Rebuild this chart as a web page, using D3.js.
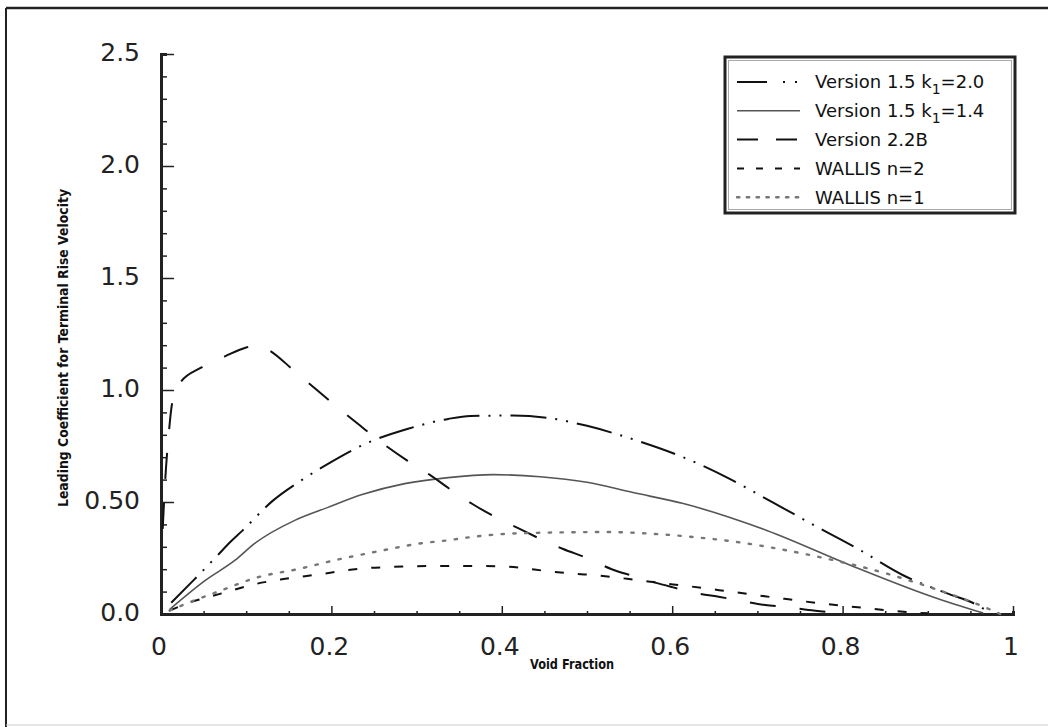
<!DOCTYPE html>
<html>
<head>
<meta charset="utf-8">
<script src="https://cdn.jsdelivr.net/npm/d3@7"></script>
<style>
    body { margin: 0; background: #fff; }
    #chart { width: 1048px; height: 727px; }
    .tick-label { font-family: "DejaVu Sans", sans-serif; font-weight: normal; font-size: 25px; fill: #222; }
    .axis-title { font-family: "DejaVu Sans", sans-serif; font-weight: bold; font-size: 14px; fill: #111; }
    .legend-text { font-family: "DejaVu Sans", sans-serif; font-size: 18px; fill: #111; }
</style>
</head>
<body>
<div id="chart"></div>
<script>
//Datos
const X_TICKS = [0, 0.2, 0.4, 0.6, 0.8, 1],
X_TICK_LABELS = ['0', '0.2', '0.4', '0.6', '0.8', '1'],
Y_TICKS = [0, 0.5, 1, 1.5, 2, 2.5],
Y_TICK_LABELS = ['0.0', '0.50', '1.0', '1.5', '2.0', '2.5'];

const SERIES_NAMES = ['Version 1.5 k1=2.0', 'Version 1.5 k1=1.4', 'Version 2.2B', 'WALLIS n=2', 'WALLIS n=1'];

const v15k20 = [[0.012,0.05],[0.038,0.15],[0.066,0.26],[0.081,0.32],[0.095,0.37],[0.131,0.505],[0.166,0.60],[0.198,0.675],[0.24,0.76],[0.29,0.827],[0.337,0.871],[0.363,0.884],[0.413,0.886],[0.453,0.876],[0.5,0.84],[0.554,0.78],[0.609,0.706],[0.664,0.61],[0.718,0.498],[0.771,0.387],[0.817,0.293],[0.871,0.173],[0.922,0.093],[0.958,0.04],[0.975,0.0]];

const v15k14 = [[0.01,0.02],[0.052,0.15],[0.087,0.24],[0.11,0.315],[0.157,0.418],[0.196,0.476],[0.236,0.533],[0.286,0.582],[0.337,0.609],[0.39,0.622],[0.445,0.613],[0.5,0.588],[0.554,0.542],[0.613,0.493],[0.711,0.373],[0.809,0.218],[0.906,0.076],[0.965,0.004]];

const v22b = [[0.002,0.38],[0.005,0.6],[0.009,0.8],[0.013,0.94],[0.022,1.03],[0.047,1.10],[0.075,1.15],[0.1,1.19],[0.115,1.2],[0.128,1.175],[0.155,1.09],[0.183,1.0],[0.208,0.92],[0.234,0.84],[0.259,0.765],[0.289,0.685],[0.316,0.62],[0.342,0.55],[0.366,0.49],[0.394,0.43],[0.421,0.38],[0.448,0.33],[0.472,0.29],[0.5,0.25],[0.529,0.20],[0.554,0.17],[0.58,0.14],[0.60,0.12],[0.629,0.093],[0.656,0.076],[0.682,0.058],[0.709,0.04],[0.735,0.031],[0.76,0.018],[0.78,0.01]];

const wallis2 = [[0.01,0.015],[0.032,0.049],[0.06,0.08],[0.085,0.107],[0.11,0.133],[0.142,0.155],[0.169,0.169],[0.195,0.182],[0.216,0.195],[0.243,0.205],[0.271,0.21],[0.298,0.213],[0.325,0.214],[0.374,0.214],[0.406,0.211],[0.457,0.19],[0.484,0.18],[0.51,0.173],[0.562,0.15],[0.59,0.137],[0.613,0.127],[0.668,0.10],[0.723,0.072],[0.773,0.048],[0.828,0.026],[0.852,0.016],[0.9,0.003]];

const wallis1 = [[0.01,0.015],[0.032,0.05],[0.072,0.107],[0.11,0.16],[0.165,0.204],[0.204,0.24],[0.255,0.28],[0.306,0.316],[0.337,0.329],[0.363,0.343],[0.418,0.36],[0.523,0.366],[0.589,0.355],[0.624,0.344],[0.652,0.333],[0.773,0.254],[0.852,0.18],[0.906,0.115],[0.969,0.027],[0.985,0.0]];

//Estilos de cada serie
const STYLES = [
    { color: '#111', width: 2, dash: '36 9 2 9 2 9' },
    { color: '#555', width: 1.6, dash: null },
    { color: '#111', width: 2, dash: '26 24' },
    { color: '#111', width: 2, dash: '9 14' },
    { color: '#777', width: 2.4, dash: '2.4 9.4' }
];

let margin = {top: 54, right: 35, bottom: 113, left: 161},
    width = 1048 - margin.left - margin.right,
    height = 727 - margin.top - margin.bottom;

let root = d3.select('#chart')
    .append('svg')
        .attr('width', 1048)
        .attr('height', 727);

//Marco exterior
root.append('line').attr('x1', 6).attr('x2', 1048).attr('y1', 8).attr('y2', 8)
    .attr('stroke', '#222').attr('stroke-width', 2.5);
root.append('line').attr('x1', 6).attr('x2', 6).attr('y1', 8).attr('y2', 727)
    .attr('stroke', '#222').attr('stroke-width', 2);
root.append('line').attr('x1', 6).attr('x2', 1048).attr('y1', 725).attr('y2', 725)
    .attr('stroke', '#ccc').attr('stroke-width', 1);

let svg = root.append('g')
    .attr('transform', 'translate(' + margin.left + ',' + margin.top + ')');

let x = d3.scaleLinear()
    .domain([0, 1])
    .range([0, width]);

let y = d3.scaleLinear()
    .domain([0, 2.5])
    .range([height, 0]);

//Eje X: ticks hacia dentro
let xAxis = function(g) {
    g.call(d3.axisTop(x).tickValues(d3.range(0, 1.0001, 0.05)).tickSize(3).tickFormat(''));
    g.call(function(g) {
        g.selectAll('.tick line')
            .attr('stroke', '#222')
            .attr('stroke-width', 1.5)
            .attr('y2', function(d) { return Math.abs(d * 5 - Math.round(d * 5)) < 1e-6 ? -8 : -3; });
        g.select('.domain').attr('stroke', '#222').attr('stroke-width', 3);
    });
};

svg.append('g')
    .attr('transform', 'translate(0,' + height + ')')
    .call(xAxis);

svg.selectAll('.x-label')
    .data(X_TICKS)
    .enter()
    .append('text')
    .attr('class', 'tick-label')
    .attr('x', function(d) { return x(d) - 2; })
    .attr('y', height + 32)
    .attr('dy', '0.35em')
    .attr('text-anchor', 'middle')
    .text(function(d, i) { return X_TICK_LABELS[i]; });

//Eje Y
let yAxis = function(g) {
    g.call(d3.axisRight(y).tickValues(d3.range(0, 2.5001, 0.1)).tickSize(6).tickFormat(''));
    g.call(function(g) {
        g.selectAll('.tick line')
            .attr('stroke', '#222')
            .attr('stroke-width', 1.5)
            .attr('x2', function(d) { return Math.abs(d * 2 - Math.round(d * 2)) < 1e-6 ? 13 : 6; });
        g.select('.domain').attr('stroke', '#222').attr('stroke-width', 3);
    });
};

svg.append('g')
    .call(yAxis);

svg.selectAll('.y-label')
    .data(Y_TICKS)
    .enter()
    .append('text')
    .attr('class', 'tick-label')
    .attr('x', -21)
    .attr('y', function(d) { return y(d) - 2; })
    .attr('dy', '0.36em')
    .attr('text-anchor', 'end')
    .text(function(d, i) { return Y_TICK_LABELS[i]; });

//Titulos de los ejes
svg.append('text')
    .attr('class', 'axis-title')
    .attr('transform', 'translate(' + (-93) + ',' + (height / 2 + 14) + ') rotate(-90)')
    .attr('text-anchor', 'middle')
    .attr('textLength', 318)
    .attr('lengthAdjust', 'spacingAndGlyphs')
    .text('Leading Coefficient for Terminal Rise Velocity');

svg.append('text')
    .attr('class', 'axis-title')
    .attr('x', x(0.5) - 15)
    .attr('y', height + 55)
    .attr('text-anchor', 'middle')
    .attr('textLength', 84)
    .attr('lengthAdjust', 'spacingAndGlyphs')
    .text('Void Fraction');

//Curvas
let line = d3.line()
    .x(function(d) { return x(d[0]); })
    .y(function(d) { return y(d[1]); })
    .curve(d3.curveMonotoneX);

let allSeries = [v15k20, v15k14, v22b, wallis2, wallis1];

svg.selectAll('.curve')
    .data(allSeries)
    .enter()
    .append('path')
    .attr('class', 'curve')
    .attr('fill', 'none')
    .attr('d', line)
    .attr('stroke', function(d, i) { return STYLES[i].color; })
    .attr('stroke-width', function(d, i) { return STYLES[i].width; })
    .attr('stroke-dasharray', function(d, i) { return STYLES[i].dash; })
    .attr('stroke-linecap', function(d, i) { return i == 4 ? 'round' : 'butt'; });

//Leyenda
let legend = root.append('g')
    .attr('transform', 'translate(725,57)');

legend.append('rect')
    .attr('width', 290)
    .attr('height', 156)
    .attr('fill', '#fff')
    .attr('stroke', '#222')
    .attr('stroke-width', 3);

legend.append('rect')
    .attr('x', 3.5)
    .attr('y', 3.5)
    .attr('width', 283)
    .attr('height', 149)
    .attr('fill', 'none')
    .attr('stroke', '#aaa')
    .attr('stroke-width', 1);

const LEGEND_DASH = ['30 16 2 10 2 40', null, '21 18', '7 12', '2.4 7.4'];

let items = legend.selectAll('.item')
    .data(SERIES_NAMES)
    .enter()
    .append('g')
    .attr('class', 'item')
    .attr('transform', function(d, i) { return 'translate(0,' + (25 + i * 28.8) + ')'; });

items.append('line')
    .attr('x1', 12)
    .attr('x2', 75)
    .attr('stroke', function(d, i) { return STYLES[i].color; })
    .attr('stroke-width', function(d, i) { return STYLES[i].width; })
    .attr('stroke-dasharray', function(d, i) { return LEGEND_DASH[i]; })
    .attr('stroke-linecap', function(d, i) { return i == 4 ? 'round' : 'butt'; });

items.each(function(d, i) {
    let t = d3.select(this).append('text')
        .attr('class', 'legend-text')
        .attr('x', 90)
        .attr('dy', '0.36em');
    let m = d.match(/^(.* k)1(=.*)$/);
    if (m) {
        t.append('tspan').text(m[1]);
        t.append('tspan').attr('dy', 6).attr('font-size', 14).text('1');
        t.append('tspan').attr('dy', -6).text(m[2]);
    } else {
        t.text(d);
    }
});
</script>
</body>
</html>
